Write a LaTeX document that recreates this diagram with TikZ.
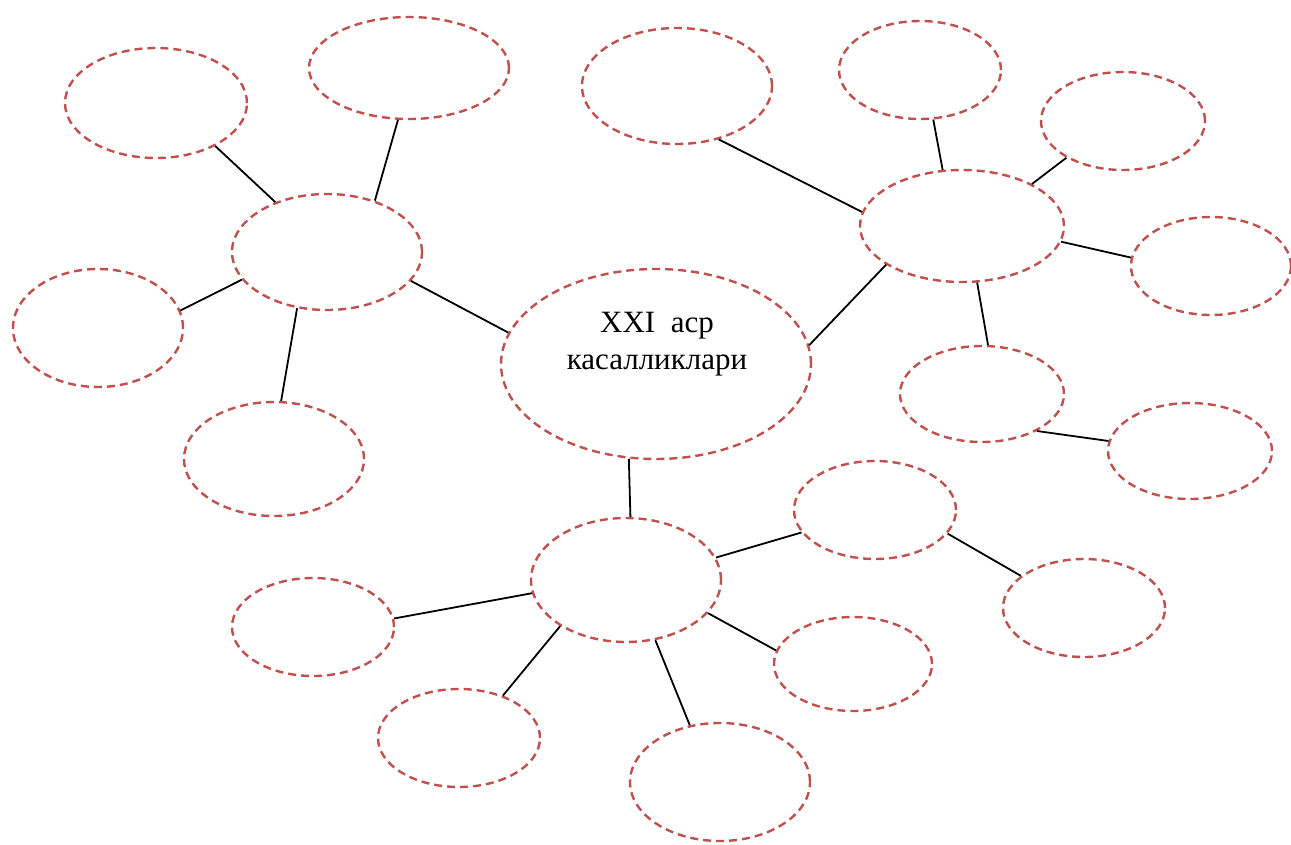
\documentclass[tikz,border=0pt]{standalone}
\usepackage{fontspec}
\setmainfont{Liberation Serif}
\usetikzlibrary{shapes.geometric}
\definecolor{dred}{RGB}{192,80,77}
\tikzset{
  bub/.style={ellipse, draw=dred, line width=2.4pt, dash pattern=on 8pt off 5pt, inner sep=0pt},
  conn/.style={draw=black, line width=1.8pt},
}
\newcommand{\bubble}[5]{\node[bub, minimum width=#4pt, minimum height=#5pt] (#1) at (#2,#3) {};}
\begin{document}
\begin{tikzpicture}[x=1pt,y=-1pt]
\useasboundingbox (0,0) rectangle (1291,844);
% central
\bubble{C}{656}{364}{310}{190}
\node[font=\fontsize{31}{37}\selectfont, align=center, inner sep=0pt] (ct) at (657,344) {XXI\ \ аср\\касалликлари};
% left group
\bubble{L}{327}{252}{190}{116}
\bubble{TL}{156}{103}{182}{110}
\bubble{TM}{409}{68}{200}{102}
\bubble{Lf}{98}{328}{170}{118}
\bubble{BL}{274}{459}{180}{114}
% right group
\bubble{R}{962}{226}{204}{112}
\bubble{TRL}{677}{86}{190}{116}
\bubble{Tp}{920}{70}{162}{98}
\bubble{RT}{1123}{121}{164}{98}
\bubble{Rr}{1211}{266}{160}{98}
\bubble{BR}{982}{394}{164}{96}
\bubble{FR}{1190}{451}{164}{96}
% bottom group
\bubble{B}{626}{580}{190}{124}
\bubble{BLf}{313}{627}{162}{98}
\bubble{LL}{459}{738}{162}{98}
\bubble{Bot}{720}{782}{180}{118}
\bubble{RL}{853}{664}{158}{94}
\bubble{UR}{875}{510}{162}{98}
\bubble{FaR}{1084}{608}{162}{98}
% connectors
\path[conn] (C.168.8) -- (L.-19.6);
\path[conn] (C.7.2) -- (R.207.7);
\path[conn] (C.254.8) -- (B.86.4);
\path[conn] (L.136.8) -- (TL.-36.4);
\path[conn] (L.47.7) -- (TM.258.2);
\path[conn] (L.198.4) -- (Lf.12);
\path[conn] (L.242.4) -- (BL.83.2);
\path[conn] (R.172.6) -- (TRL.-52.1);
\path[conn] (R.109.4) -- (Tp.-75.4);
\path[conn] (R.31.6) -- (RT.213);
\path[conn] (R.-9.9) -- (Rr.174.3);
\path[conn] (R.-75) -- (BR.83);
\path[conn] (BR.-34.2) -- (FR.173.7);
\path[conn] (B.14) -- (UR.197);
\path[conn] (UR.-18.2) -- (FaR.153.1);
\path[conn] (B.188.4) -- (BLf.6.9);
\path[conn] (B.215.8) -- (LL.44.4);
\path[conn] (B.-64.3) -- (Bot.118);
\path[conn] (B.-22.3) -- (RL.170.4);
\end{tikzpicture}
\end{document}
